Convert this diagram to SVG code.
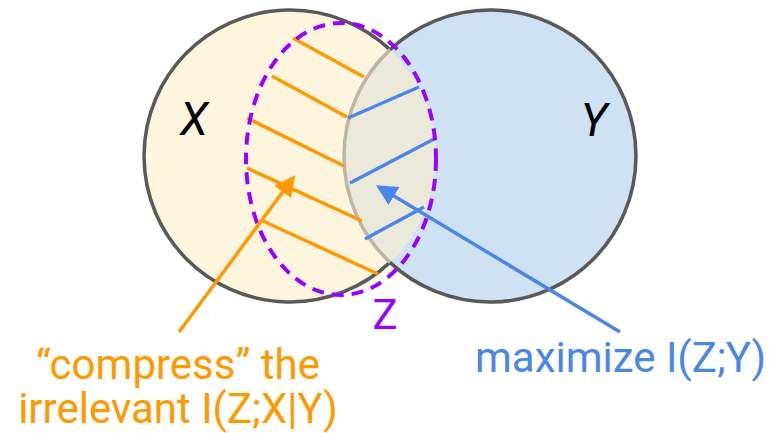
<svg xmlns="http://www.w3.org/2000/svg" width="769" height="433" viewBox="0 0 769 433">
<defs>
<style>
.lbl{font-family:Roboto,"Liberation Sans",sans-serif;}
.hO{stroke:#ff9900;stroke-width:3.5;fill:none;}
.hB{stroke:#4a86e8;stroke-width:3.5;fill:none;}
.edge{stroke:#595959;stroke-width:3.5;fill:none;}
</style>
<marker id="arO" markerWidth="6" markerHeight="6" refX="5" refY="3" orient="auto" markerUnits="strokeWidth" viewBox="0 0 6 6"><path d="M0,0 L6,3 L0,6 Z" fill="#ff9900"/></marker>
<marker id="arB" markerWidth="6" markerHeight="6" refX="5" refY="3" orient="auto" markerUnits="strokeWidth" viewBox="0 0 6 6"><path d="M0,0 L6,3 L0,6 Z" fill="#4a86e8"/></marker>
</defs>
<rect width="769" height="433" fill="#ffffff"/>
<g id="X">
<circle cx="290" cy="156" r="146" fill="#fef5df"/>
</g>
<g id="Y">
<circle cx="490" cy="156" r="146" fill="#cfe2f3"/>
</g>
<g id="XY">
<path d="M390,49.6 A146,146 0 0 1 390,262.4 A146,146 0 0 1 390,49.6 Z" fill="#ebe9da"/>
</g>
<g id="outlines">
<path class="edge" d="M390,49.6 A146,146 0 1 0 390,262.4"/>
<path class="edge" d="M390,49.6 A146,146 0 1 1 390,262.4"/>
<path d="M390,49.6 A146,146 0 0 0 390,262.4" stroke="#bdb6a6" stroke-width="3.5" fill="none"/>
</g>
<g id="hatch">
<line class="hO" x1="293" y1="38" x2="364" y2="77"/>
<line class="hO" x1="272" y1="76" x2="347" y2="117"/>
<line class="hO" x1="247" y1="118" x2="344" y2="166"/>
<line class="hO" x1="247" y1="168" x2="362" y2="221"/>
<line class="hO" x1="263" y1="221" x2="378" y2="274"/>
<line class="hB" x1="348" y1="118" x2="419" y2="87"/>
<line class="hB" x1="350" y1="183" x2="436" y2="138"/>
<line class="hB" x1="365" y1="239" x2="424" y2="207"/>
</g>
<g id="Z">
<ellipse cx="341" cy="159" rx="95" ry="136" fill="none" stroke="#9900ff" stroke-width="4" stroke-dasharray="12,8"/>
<text class="lbl" x="385" y="329" font-size="42" fill="#9900ff" text-anchor="middle">Z</text>
</g>
<g id="labels">
<text class="lbl" x="194" y="135" font-size="46" font-style="italic" fill="#000000" text-anchor="middle">X</text>
<text class="lbl" x="594" y="136" font-size="46" font-style="italic" fill="#000000" text-anchor="middle">Y</text>
</g>
<g id="connectors">
<line x1="179" y1="332" x2="293" y2="178" stroke="#ff9900" stroke-width="3.5" marker-end="url(#arO)"/>
<line x1="620" y1="332" x2="379" y2="187" stroke="#4a86e8" stroke-width="3.5" marker-end="url(#arB)"/>
</g>
<g id="compress">
<text class="lbl" font-size="42" fill="#ff9900" text-anchor="middle"><tspan x="178" y="379">“compress” the</tspan><tspan x="178" y="423">irrelevant I(Z;X|Y)</tspan></text>
</g>
<g id="maximize">
<text class="lbl" x="620.5" y="372" font-size="42" fill="#4a86e8" text-anchor="middle">maximize I(Z;Y)</text>
</g>
</svg>
